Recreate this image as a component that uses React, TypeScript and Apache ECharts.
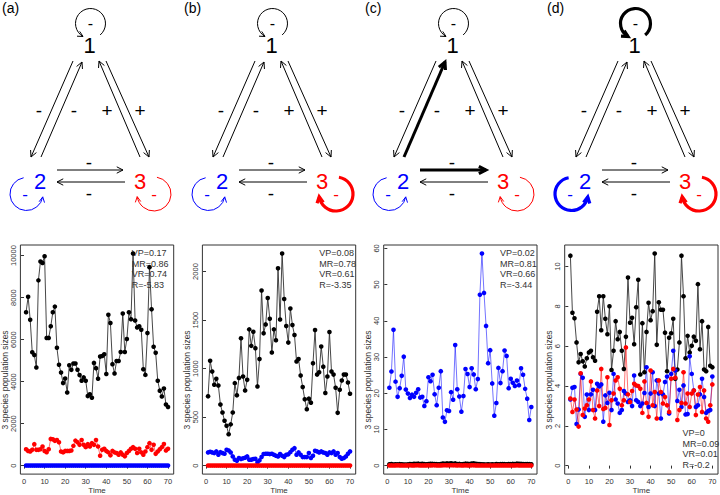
import React, { useEffect, useRef } from "react";
import * as echarts from "echarts";

// ---------- data ----------
const time = [1,2,3,4,5,6,7,8,9,10,11,12,13,14,15,16,17,18,19,20,21,22,23,24,25,26,27,28,29,30,31,32,33,34,35,36,37,38,39,40,41,42,43,44,45,46,47,48,49,50,51,52,53,54,55,56,57,58,59,60,61,62,63,64,65,66,67,68,69,70];
const xTicks = [0, 10, 20, 30, 40, 50, 60, 70];

const aBlack = [7300,8040,6940,5400,5270,4670,8820,9720,9650,9970,6080,6080,6630,7300,7570,5610,4800,4430,3930,4150,3480,4780,4560,4860,4860,4560,4310,4040,4200,4040,3310,3400,3230,4890,4640,4140,5190,5220,5300,4360,7180,6790,4830,4390,4980,4980,5410,7240,5410,6030,7300,6970,10100,6910,6580,6630,6470,4590,4320,6310,9450,7440,5660,5370,4040,3570,3290,3670,2910,2790];
const aRed = [780,700,670,750,1020,750,750,780,910,700,640,780,1270,1250,1180,1220,1110,670,630,700,700,700,720,940,1190,1110,990,1220,990,880,1020,910,1070,990,1220,910,470,750,800,700,630,490,700,630,600,520,630,520,440,600,700,800,880,800,600,800,630,520,670,880,1070,750,990,560,670,780,880,1030,720,800];
const aBlue = [0,0,0,0,0,0,0,0,0,0,0,0,0,0,0,0,0,0,0,0,0,0,0,0,0,0,0,0,0,0,0,0,0,0,0,0,0,0,0,0,0,0,0,0,0,0,0,0,0,0,0,0,0,0,0,0,0,0,0,0,0,0,0,0,0,0,0,0,0,0];
const aTicks = [0, 2000, 4000, 6000, 8000, 10000];
const aStats = ["VP=0.17", "MR=0.86", "VR=0.74", "R=-5.83"];

const bBlack = [714,1081,969,833,894,826,629,547,462,411,323,425,547,850,724,904,1312,918,775,884,1404,1234,1380,1210,816,1098,1805,1363,1455,1727,1513,1166,1404,1292,2033,1506,2186,1717,1438,1268,1618,1448,1346,1074,1098,928,809,683,581,690,649,1054,1397,938,962,1227,1020,748,918,1377,969,938,802,544,782,877,938,938,857,741];
const bBlue = [136,143,136,129,146,112,139,129,122,163,156,136,95,61,51,78,68,75,82,95,61,61,68,71,34,54,88,119,122,122,119,122,112,102,95,119,102,88,112,116,139,163,180,112,136,112,88,88,88,129,78,102,153,146,136,146,136,129,112,136,129,146,112,129,88,71,78,95,122,146];
const bRed = [0,0,0,0,0,0,0,0,0,0,0,0,0,0,0,0,0,0,0,0,0,0,0,0,0,0,0,0,0,0,0,0,0,0,0,0,0,0,0,0,0,0,0,0,0,0,0,0,0,0,0,0,0,0,0,0,0,0,0,0,0,0,0,0,0,0,0,0,0,0];
const bTicks = [0, 500, 1000, 1500, 2000];
const bStats = ["VP=0.08", "MR=0.78", "VR=0.61", "R=-3.35"];

const cBlack = [0.35,0.42,0.3,0.38,0.33,0.4,0.36,0.31,0.28,0.34,0.45,0.4,0.52,0.47,0.55,0.43,0.5,0.41,0.38,0.46,0.52,0.48,0.44,0.4,0.36,0.45,0.58,0.5,0.62,0.55,0.64,0.5,0.6,0.42,0.48,0.38,0.45,0.55,0.5,0.43,0.58,0.61,0.5,0.45,0.4,0.38,0.33,0.3,0.36,0.32,0.35,0.3,0.42,0.37,0.4,0.45,0.41,0.36,0.44,0.4,0.48,0.42,0.55,0.5,0.47,0.43,0.4,0.45,0.41,0.38];
const cRed = [0.05,0.06,0.04,0.05,0.07,0.05,0.06,0.04,0.05,0.06,0.07,0.05,0.06,0.08,0.07,0.06,0.05,0.06,0.05,0.07,0.06,0.08,0.07,0.06,0.05,0.06,0.08,0.09,0.08,0.07,0.09,0.08,0.07,0.06,0.07,0.05,0.06,0.07,0.06,0.05,0.07,0.08,0.06,0.05,0.04,0.05,0.04,0.05,0.04,0.05,0.04,0.05,0.06,0.05,0.06,0.05,0.06,0.05,0.06,0.05,0.06,0.05,0.07,0.06,0.05,0.06,0.05,0.06,0.05,0.05];
const cBlue = [21.5,26.0,37.5,23.2,19.0,21.4,24.8,30.1,21.0,19.9,18.7,19.6,19.0,20.1,21.1,18.8,19.0,16.5,17.8,24.4,23.3,25.1,19.7,16.7,21.5,26.1,13.3,12.1,15.3,15.1,20.3,18.2,33.3,21.1,19.1,14.9,19.2,26.7,25.3,21.7,26.9,25.2,21.1,23.9,47.2,58.6,47.7,38.6,28.3,31.9,22.7,13.8,17.3,27.0,22.8,26.1,31.8,30.3,21.4,24.0,22.9,22.0,23.5,22.2,26.9,25.1,21.2,18.5,12.6,16.2];
const cTicks = [0, 10, 20, 30, 40, 50, 60];
const cStats = ["VP=0.02", "MR=0.81", "VR=0.66", "R=-3.44"];

const dBlack = [10.55,7.68,7.40,6.19,5.19,5.61,5.24,4.98,5.39,5.69,5.77,5.44,5.27,7.73,8.51,6.80,8.51,7.38,6.60,8.01,4.81,5.77,7.26,6.35,6.72,5.77,4.86,6.47,9.45,7.18,7.43,6.10,7.96,9.34,4.58,7.16,4.69,6.72,8.18,7.31,7.76,10.66,6.07,8.21,7.83,7.83,6.68,4.74,6.43,6.65,7.38,4.36,4.83,6.19,10.55,8.51,5.39,6.52,5.69,6.02,6.48,6.27,9.12,5.85,7.26,4.83,4.74,6.97,5.02,4.94];
const dBlue = [3.32,3.91,3.95,2.09,2.82,4.61,4.41,2.45,3.57,2.79,3.58,3.81,2.79,4.11,3.98,4.08,2.21,3.53,3.15,3.66,2.79,4.61,3.32,3.12,2.65,2.79,3.75,3.62,3.20,3.28,2.99,4.53,3.28,3.20,2.99,3.12,3.65,4.94,2.95,3.62,4.69,2.99,4.28,3.62,2.37,3.58,4.20,4.48,2.62,4.61,5.77,4.78,3.25,3.81,2.95,4.03,2.57,2.59,5.49,4.61,3.78,2.95,3.03,3.58,4.36,3.45,2.65,2.75,2.79,4.48];
const dRed = [3.37,2.70,3.32,2.82,1.96,4.64,2.54,2.87,3.03,3.32,4.23,2.79,2.37,3.78,2.99,4.86,2.84,2.90,4.44,2.04,3.28,3.62,4.28,4.44,3.86,3.03,3.28,5.94,3.58,3.20,3.75,4.11,4.03,4.00,3.86,2.65,4.23,3.15,2.45,4.78,3.03,3.70,2.37,4.28,3.70,3.12,3.45,3.03,2.70,4.36,4.86,4.41,2.29,2.79,3.15,4.69,3.12,3.62,2.95,3.62,3.78,2.54,3.57,3.95,2.70,3.78,2.37,2.21,3.03,4.08];
const dTicks = [0, 2, 4, 6, 8, 10];
const dStats = ["VP=0", "MR=0.09", "VR=0.01", "R=-0.2"];

const panelLabels = ["(a)", "(b)", "(c)", "(d)"];
const yTitle = "3 species population sizes";
const xTitle = "Time";

// ---------- layout / style ----------
const FONT = '"Liberation Sans", Arial, Helvetica, sans-serif';
const deg = Math.PI / 180;
const BLUE = "#0000ff";
const RED = "#ff0000";
const BLACK = "#000000";
const AX = "#333333";

const panelX = [0, 182, 363, 545];
const gridLeft = [20.4, 202.4, 383.7, 564.7];
const gridW = 153.3;
const gridTop = 245;
const gridH = 232;
const statsPos = [
  { x: 131.7, y: 253 },
  { x: 319.3, y: 253 },
  { x: 500, y: 253 },
  { x: 682.5, y: 433 },
];
// which diagram elements are thick, per panel
const thickSets = [
  [],
  ["loop3"],
  ["e21", "e23"],
  ["loop1", "loop2", "loop3"],
];

function arrowHead(x: number, y: number, dx: number, dy: number, len: number, color: string, lw: number) {
  const n = Math.hypot(dx, dy);
  const ux = dx / n, uy = dy / n;
  const a = 27 * deg;
  const c = Math.cos(a), s = Math.sin(a);
  const p1 = [x - len * (ux * c - uy * s), y - len * (ux * s + uy * c)];
  const p2 = [x - len * (ux * c + uy * s), y - len * (-ux * s + uy * c)];
  return {
    type: "polyline",
    shape: { points: [p1, [x, y], p2] },
    style: { stroke: color, lineWidth: lw, fill: "none", lineJoin: "miter" },
  };
}

function edge(ox: number, x1: number, y1: number, x2: number, y2: number, thick: boolean) {
  const lw = thick ? 3 : 1;
  const len = thick ? 8 : 7;
  return [
    {
      type: "line",
      shape: { x1: ox + x1, y1, x2: ox + x2, y2 },
      style: { stroke: BLACK, lineWidth: lw },
    },
    arrowHead(ox + x2, y2, x2 - x1, y2 - y1, len, BLACK, lw),
  ];
}

function loop(ox: number, cx: number, cy: number, r: number, a0: number, a1: number, dir: number, color: string, thick: boolean) {
  const lw = thick ? 3.2 : 1;
  const ex = ox + cx + r * Math.cos(a1 * deg);
  const ey = cy + r * Math.sin(a1 * deg);
  const tx = dir * -Math.sin(a1 * deg);
  const ty = dir * Math.cos(a1 * deg);
  return [
    {
      type: "arc",
      shape: { cx: ox + cx, cy, r, startAngle: a0 * deg, endAngle: a1 * deg, clockwise: dir > 0 },
      style: { stroke: color, lineWidth: lw, fill: "none" },
    },
    arrowHead(ex, ey, tx, ty, thick ? 7 : 6, color, lw),
  ];
}

function txt(x: number, y: number, text: string, size: number, color: string, align = "center") {
  return {
    type: "text",
    x,
    y,
    style: { text, fontSize: size, fontFamily: FONT, fill: color, align, verticalAlign: "middle" },
  };
}

function diagram(i: number) {
  const ox = panelX[i];
  const th = thickSets[i];
  const els: any[] = [];
  els.push(txt(ox + 2, 8, panelLabels[i], 14, BLACK, "left"));
  // loops
  els.push(...loop(ox, 90.5, 23.5, 15, 50, -240, -1, BLACK, th.includes("loop1")));
  els.push(...loop(ox, 26.5, 194, 16.5, -100, -350, -1, BLUE, th.includes("loop2")));
  els.push(...loop(ox, 154, 194, 17, -80, 171, 1, RED, th.includes("loop3")));
  // edges
  els.push(...edge(ox, 73, 61, 31, 157, th.includes("e12")));
  els.push(...edge(ox, 41, 157, 82, 62, th.includes("e21")));
  els.push(...edge(ox, 106, 61, 149, 157, th.includes("e13")));
  els.push(...edge(ox, 140, 157, 99, 61, th.includes("e31")));
  els.push(...edge(ox, 57, 170, 123, 170, th.includes("e23")));
  els.push(...edge(ox, 125, 182, 57, 182, th.includes("e32")));
  // nodes
  els.push(txt(ox + 89.5, 45, "1", 22, BLACK));
  els.push(txt(ox + 40, 181, "2", 22, BLUE));
  els.push(txt(ox + 140, 181, "3", 22, RED));
  // signs
  els.push(txt(ox + 90.5, 23.5, "-", 16, BLACK));
  els.push(txt(ox + 25, 194, "-", 17, BLUE));
  els.push(txt(ox + 154, 194, "-", 17, RED));
  els.push(txt(ox + 39, 110, "-", 19, BLACK));
  els.push(txt(ox + 74, 110, "-", 19, BLACK));
  els.push(txt(ox + 107, 110, "+", 19, BLACK));
  els.push(txt(ox + 140, 110, "+", 19, BLACK));
  els.push(txt(ox + 89, 162, "-", 19, BLACK));
  els.push(txt(ox + 89, 193, "-", 19, BLACK));
  return els;
}

const panels = [
  { black: aBlack, red: aRed, blue: aBlue, ticks: aTicks, stats: aStats },
  { black: bBlack, red: bRed, blue: bBlue, ticks: bTicks, stats: bStats },
  { black: cBlack, red: cRed, blue: cBlue, ticks: cTicks, stats: cStats },
  { black: dBlack, red: dRed, blue: dBlue, ticks: dTicks, stats: dStats },
];

function buildOption() {
  const grids: any[] = [];
  const xAxes: any[] = [];
  const yAxes: any[] = [];
  const series: any[] = [];
  const graphics: any[] = [];

  panels.forEach((p, i) => {
    const hi = Math.max(...p.black, ...p.red, ...p.blue);
    grids.push({
      left: gridLeft[i],
      top: gridTop,
      width: gridW,
      height: gridH,
      show: true,
      borderColor: AX,
      borderWidth: 1,
      backgroundColor: "transparent",
      containLabel: false,
    });
    xAxes.push({
      gridIndex: i,
      type: "value",
      min: -1.76,
      max: 72.76,
      axisLine: { show: false },
      axisTick: { show: true, length: 3, lineStyle: { color: AX }, customValues: xTicks },
      axisLabel: {
        customValues: xTicks,
        fontSize: 7.5,
        color: AX,
        margin: 3,
        fontFamily: FONT,
        formatter: (v: number) => String(v),
      },
      splitLine: { show: false },
      name: xTitle,
      nameLocation: "middle",
      nameGap: 11,
      nameTextStyle: { fontSize: 8, color: AX, fontFamily: FONT },
    });
    yAxes.push({
      gridIndex: i,
      type: "value",
      min: -0.04 * hi,
      max: 1.04 * hi,
      axisLine: { show: false },
      axisTick: { show: true, length: 3, lineStyle: { color: AX }, customValues: p.ticks },
      axisLabel: {
        customValues: p.ticks,
        fontSize: 7.5,
        color: AX,
        margin: 3,
        rotate: 90,
        fontFamily: FONT,
        formatter: (v: number) => String(v),
      },
      splitLine: { show: false },
    });
    const mk = (vals: number[], dot: string, line: string, op: number) => ({
      type: "line",
      xAxisIndex: i,
      yAxisIndex: i,
      data: time.map((t, k) => [t, vals[k]]),
      symbol: "circle",
      symbolSize: 4.6,
      showSymbol: true,
      itemStyle: { color: dot, borderWidth: 0 },
      lineStyle: { color: line, width: 1, opacity: op },
      emphasis: { disabled: true },
      silent: true,
    });
    series.push(mk(p.black, BLACK, "#333333", 0.9));
    series.push(mk(p.blue, BLUE, BLUE, 0.55));
    series.push(mk(p.red, RED, RED, 0.55));

    // y title
    graphics.push({
      type: "text",
      x: gridLeft[i] - 15.5,
      y: 380,
      rotation: Math.PI / 2,
      style: { text: yTitle, fontSize: 8.5, fontFamily: FONT, fill: AX, align: "center", verticalAlign: "middle" },
    });
    // stats
    p.stats.forEach((s, k) => {
      graphics.push(txt(statsPos[i].x, statsPos[i].y + k * 10.7, s, 9, AX, "left"));
    });
    graphics.push(...diagram(i));
  });

  return {
    animation: false,
    backgroundColor: "#ffffff",
    grid: grids,
    xAxis: xAxes,
    yAxis: yAxes,
    series,
    graphic: graphics,
  };
}

export default function App() {
  const ref = useRef<HTMLDivElement>(null);
  useEffect(() => {
    const chart = echarts.init(ref.current!, null, { renderer: "svg" });
    chart.setOption(buildOption() as any);
    return () => chart.dispose();
  }, []);
  return (
    <div
      ref={ref}
      style={{ position: "fixed", left: 0, top: 0, width: 720, height: 495, background: "#fff" }}
    />
  );
}
